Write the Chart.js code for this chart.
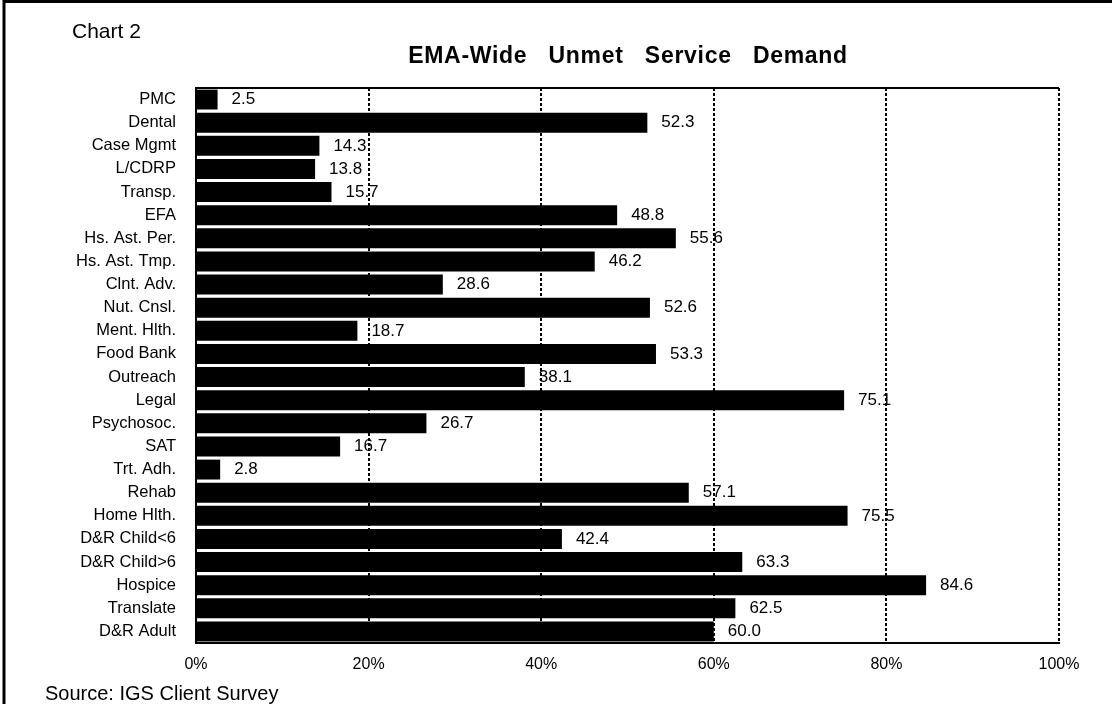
<!DOCTYPE html>
<html>
<head>
<meta charset="utf-8">
<title>EMA-Wide Unmet Service Demand</title>
<script src="https://cdn.jsdelivr.net/npm/chart.js@4"></script>
<style>
    html, body { margin: 0; padding: 0; background: #fff; }
    #wrap { position: relative; width: 1112px; height: 704px; }
</style>
</head>
<body>
<div id="wrap"><canvas id="demandChart"></canvas></div>
<script>
/* ---------- data ---------- */

const services = [
    "PMC", "Dental", "Case Mgmt", "L/CDRP", "Transp.", "EFA",
    "Hs. Ast. Per.", "Hs. Ast. Tmp.", "Clnt. Adv.", "Nut. Cnsl.",
    "Ment. Hlth.", "Food Bank", "Outreach", "Legal", "Psychosoc.",
    "SAT", "Trt. Adh.", "Rehab", "Home Hlth.", "D&R Child<6",
    "D&R Child>6", "Hospice", "Translate", "D&R Adult"
];

const unmetPercent = [
    2.5, 52.3, 14.3, 13.8, 15.7, 48.8,
    55.6, 46.2, 28.6, 52.6,
    18.7, 53.3, 38.1, 75.1, 26.7,
    16.7, 2.8, 57.1, 75.5, 42.4,
    63.3, 84.6, 62.5, 60.0
];

const percentTicks = [0, 20, 40, 60, 80, 100];

const chartLabel = "Chart 2";
const chartTitle = "EMA-Wide   Unmet   Service   Demand";
const sourceNote = "Source: IGS Client Survey";

const FONT = "'Liberation Sans', Arial, sans-serif";

/* ---------- frame, titles and value labels ---------- */

const decorations = {
    id: "decorations",
    afterDraw(chart) {
        const ctx = chart.ctx;
        const area = chart.chartArea;

        ctx.save();

        // page frame (top and left edges)
        ctx.strokeStyle = "#000";
        ctx.lineWidth = 3;
        ctx.beginPath();
        ctx.moveTo(4, 704);
        ctx.lineTo(4, 1.5);
        ctx.lineTo(1112, 1.5);
        ctx.stroke();

        // top edge of the plot box
        ctx.lineWidth = 2;
        ctx.beginPath();
        ctx.moveTo(area.left, area.top);
        ctx.lineTo(area.right, area.top);
        ctx.stroke();

        ctx.fillStyle = "#000";
        ctx.textBaseline = "middle";

        ctx.font = "21px " + FONT;
        ctx.textAlign = "left";
        ctx.fillText(chartLabel, 72, 32);

        ctx.font = "bold 23px " + FONT;
        ctx.textAlign = "center";
        ctx.letterSpacing = "0.7px";
        ctx.fillText(chartTitle, 628, 57);
        ctx.letterSpacing = "0px";

        ctx.font = "20px " + FONT;
        ctx.textAlign = "left";
        ctx.fillText(sourceNote, 45, 694);

        // value next to each bar
        const meta = chart.getDatasetMeta(0);
        ctx.font = "17px " + FONT;
        meta.data.forEach((bar, i) => {
            ctx.fillText(unmetPercent[i].toFixed(1), bar.x + 14, bar.y);
        });

        ctx.restore();
    }
};

/* ---------- chart ---------- */

new Chart(document.getElementById("demandChart"), {
    type: "bar",
    data: {
        labels: services,
        datasets: [{
            data: unmetPercent,
            backgroundColor: "#000",
            borderWidth: 0,
            barPercentage: 0.86,
            categoryPercentage: 1.0
        }]
    },
    options: {
        indexAxis: "y",
        responsive: true,
        maintainAspectRatio: false,
        animation: false,
        layout: {
            padding: { top: 88, right: 53, left: 0, bottom: 0 }
        },
        plugins: {
            legend: { display: false },
            tooltip: { enabled: false }
        },
        scales: {
            x: {
                min: percentTicks[0],
                max: percentTicks[percentTicks.length - 1],
                afterBuildTicks(scale) {
                    scale.ticks = percentTicks.map(v => ({ value: v }));
                },
                afterFit(scale) {
                    scale.height = 61;
                },
                ticks: {
                    color: "#000",
                    font: { family: FONT, size: 16 },
                    padding: 12,
                    callback: v => v + "%"
                },
                grid: {
                    color: "#000",
                    lineWidth: 2,
                    drawTicks: false
                },
                border: {
                    display: true,
                    color: "#000",
                    width: 2,
                    dash: [3, 2]
                }
            },
            y: {
                afterFit(scale) {
                    scale.width = 196;
                },
                ticks: {
                    color: "#000",
                    font: { family: FONT, size: 16.5 },
                    padding: 12
                },
                grid: { display: false },
                border: {
                    display: true,
                    color: "#000",
                    width: 2
                }
            }
        }
    },
    plugins: [decorations]
});
</script>
</body>
</html>
